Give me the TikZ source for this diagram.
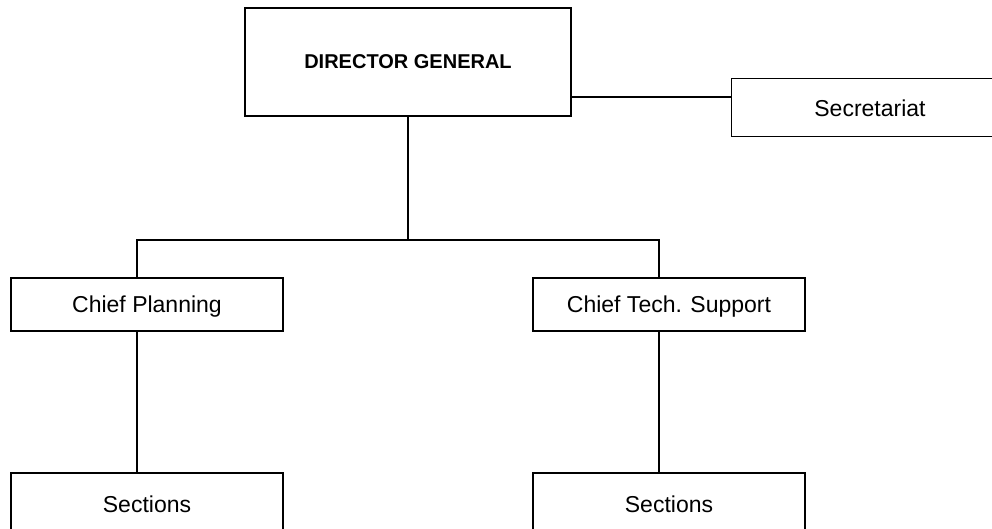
\documentclass[tikz,border=0pt]{standalone}
\usepackage{fontspec}
\setmainfont{Liberation Sans}
\begin{document}
\begin{tikzpicture}[x=1pt,y=-1pt,
  box/.style={draw=black, line width=1.4pt, fill=white, inner sep=0pt,
    text depth=0pt, font=\fontsize{23}{27}\selectfont},
  link/.style={draw=black, line width=1.4pt},
  lbl/.style={inner sep=0pt, font=\fontsize{23}{27}\selectfont}]
  \clip (0,0) rectangle (992,529);
  \fill[white] (0,0) rectangle (992,529);

  % top of the chart
  \node[box, minimum width=326pt, minimum height=108pt,
        font=\fontsize{20}{24}\selectfont\bfseries] (dg) at (408,62) {DIRECTOR GENERAL};
  \node[box, minimum width=290pt, minimum height=58pt, anchor=north west] (sec) at (731,78) {};
  \node[lbl] (sectext) at (870,108) {Secretariat};

  % second level
  \node[box, minimum width=272pt, minimum height=53pt] (cp) at (147,304.5) {Chief Planning};
  \node[box, minimum width=272pt, minimum height=53pt] (ct) at (669,304.5) {Chief Tech. Support};

  % third level (runs past the lower edge)
  \node[box, minimum width=272pt, minimum height=62pt] (s1) at (147,504) {Sections};
  \node[box, minimum width=272pt, minimum height=62pt] (s2) at (669,504) {Sections};

  % connectors
  \coordinate (bus) at (dg.south |- 0,240);
  \draw[link] ([yshift=-35pt]dg.east) -- ([yshift=-35pt]dg.east -| sec.west);
  \draw[link] (dg.south) -- (bus);
  \draw[link] ([xshift=-10pt]cp.north) |- (bus) -| ([xshift=-10pt]ct.north);
  \draw[link] ([xshift=-10pt]cp.south) -- ([xshift=-10pt]s1.north);
  \draw[link] ([xshift=-10pt]ct.south) -- ([xshift=-10pt]s2.north);
\end{tikzpicture}
\end{document}
